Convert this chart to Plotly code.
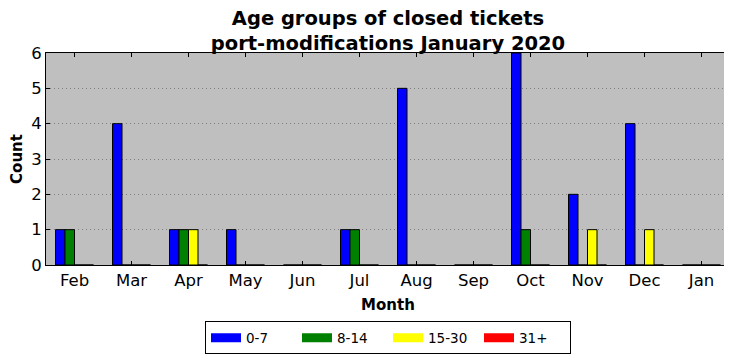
import plotly.graph_objects as go

months = ["Feb", "Mar", "Apr", "May", "Jun", "Jul", "Aug", "Sep", "Oct", "Nov", "Dec", "Jan"]
groups = ["0-7", "8-14", "15-30", "31+"]
v_0_7 = [1, 4, 1, 1, 0, 1, 5, 0, 6, 2, 4, 0]
v_8_14 = [1, 0, 1, 0, 0, 1, 0, 0, 1, 0, 0, 0]
v_15_30 = [0, 0, 1, 0, 0, 0, 0, 0, 0, 1, 1, 0]
v_31 = [0, 0, 0, 0, 0, 0, 0, 0, 0, 0, 0, 0]
series = [v_0_7, v_8_14, v_15_30, v_31]
colors = ["#0000ff", "#008000", "#ffff00", "#ff0000"]

x = list(range(len(months)))
w = 1 / 6

fig = go.Figure()
for i, (name, vals, col) in enumerate(zip(groups, series, colors)):
    fig.add_trace(go.Bar(
        x=x, y=vals, name=name, width=w, offset=-2 * w + i * w,
        marker=dict(color=col, line=dict(color="black", width=1)),
        showlegend=False,
    ))
# legend-only entries (wide rectangle swatches)
for name, col in zip(groups, colors):
    fig.add_trace(go.Scatter(x=[None], y=[None], mode="lines", name=name,
                             line=dict(color=col, width=9)))

font = "DejaVu Sans"
W, H = 724, 353
fig.update_layout(
    width=W, height=H,
    margin=dict(l=38, r=2, t=45, b=96, autoexpand=False),
    paper_bgcolor="white", plot_bgcolor="#bfbfbf",
    font=dict(family=font, size=14, color="black"),
    title=dict(text="<b>Age groups of closed tickets<br>port-modifications January 2020</b>",
               x=0.5, xref="paper", xanchor="center", yref="container",
               y=1 - 17 / H, yanchor="middle",
               font=dict(family=font, size=19.5)),
    barmode="overlay",
    showlegend=True,
    legend=dict(orientation="h", x=0.5, xanchor="center", y=-0.344, yanchor="middle",
                bordercolor="black", borderwidth=1, bgcolor="white",
                font=dict(size=13.5), entrywidth=46, entrywidthmode="pixels",
                tracegroupgap=0),
    xaxis=dict(range=[-0.5, 11.5], tickmode="array", tickvals=x, ticktext=months,
               showgrid=False, zeroline=False, showline=True, linecolor="black", linewidth=1,
               mirror="ticks", ticks="inside", ticklen=4, tickcolor="black",
               tickfont=dict(size=16.5),
               title=dict(text="<b>Month</b>", font=dict(size=15), standoff=10)),
    yaxis=dict(range=[0, 6], dtick=1, showgrid=True, gridcolor="#7f7f7f", griddash="1px,3px",
               gridwidth=1, zeroline=False, showline=True, linecolor="black", linewidth=1,
               mirror="ticks", ticks="inside", ticklen=4, tickcolor="black",
               tickfont=dict(size=16.5),
               title=dict(text="<b>Count</b>", font=dict(size=15), standoff=6)),
)

fig.write_html("out.html")
